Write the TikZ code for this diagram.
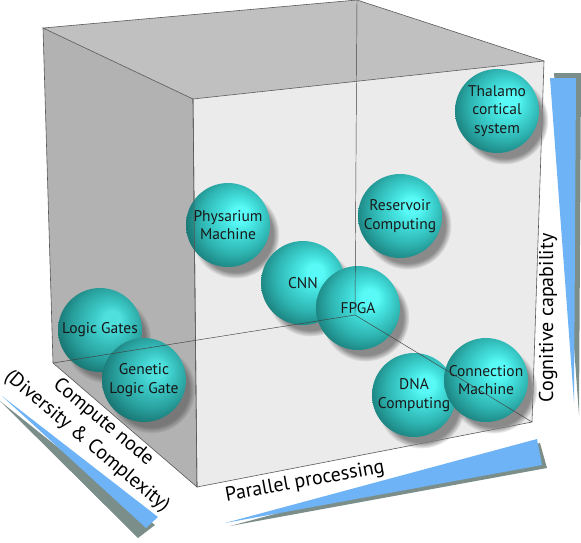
\documentclass[tikz,border=0pt]{standalone}
\usepackage{fontspec}
\setmainfont{PT Sans}
\usepackage{tikz}
\usetikzlibrary{shadows}

\definecolor{spherehi}{HTML}{58F9F6}
\definecolor{spherelight}{HTML}{45E3E0}
\definecolor{spheremid}{HTML}{2EB4B1}
\definecolor{sphereedge}{HTML}{1D8683}
\definecolor{sphererim}{HTML}{145F5D}
\definecolor{wedgeblue}{HTML}{6DB3F6}
\definecolor{wedgegray}{HTML}{7B8E8A}
\definecolor{facetop}{HTML}{C0C0C0}
\definecolor{faceleft}{HTML}{C7C7C7}
\definecolor{facefront}{HTML}{EBEBEB}

\pgfdeclareradialshading{sphereshade}{\pgfpoint{8bp}{7bp}}{%
  color(0bp)=(spherehi); color(5bp)=(spherehi); color(10bp)=(spherelight);
  color(21bp)=(spheremid); color(29bp)=(sphereedge); color(36bp)=(sphererim);
  color(50bp)=(sphererim)}

\begin{document}
\begin{tikzpicture}[x=1pt,y=-1pt,
  sphere/.style={circle,minimum size=84pt,inner sep=0pt,shading=sphereshade,
    align=center,text=black!90,font=\fontsize{15.5}{18.5}\selectfont,
    circular drop shadow={shadow xshift=7pt,shadow yshift=-9pt,shadow scale=1.05,opacity=.9}},
  axislabel/.style={font=\fontsize{20}{25}\selectfont,text=black,align=center},
  cubeline/.style={draw=black!65,line width=.6pt},
  hiddenline/.style={draw=black!75,line width=.45pt}]
\useasboundingbox (0,0) rectangle (581,542);

% corners of the box
\coordinate (btl) at (43,28);
\coordinate (btr) at (357,0);
\coordinate (bbl) at (53,363);
\coordinate (bbr) at (355,315);
\coordinate (ftl) at (193,99);
\coordinate (ftr) at (544,61);
\coordinate (fbl) at (197,487);
\coordinate (fbr) at (532,422);

\fill[facetop] (btl) -- (btr) -- (ftr) -- (ftl) -- cycle;
\fill[faceleft] (btl) -- (ftl) -- (fbl) -- (bbl) -- cycle;
\fill[facefront] (ftl) -- (ftr) -- (fbr) -- (fbl) -- cycle;
\draw[cubeline] (ftl) -- (ftr) -- (fbr) -- (fbl) -- cycle;

% the spheres
\node[sphere] (thalamo) at (497,111) {Thalamo\\cortical\\system};
\node[sphere] (reservoir) at (400,216) {Reservoir\\Computing};
\node[sphere] (physarum) at (228,225) {Physarium\\Machine};
\node[sphere] (cnn) at (303,283) {CNN};
\node[sphere] (fpga) at (358,308) {FPGA};
\node[sphere] (logicgates) at (100,330) {Logic Gates};
\node[sphere] (genetic) at (144,380) {Genetic\\Logic Gate};
\node[sphere] (dna) at (414,395) {DNA\\Computing};
\node[sphere] (connection) at (486,380) {Connection\\Machine};

% left wall sits in front of the spheres
\fill[black,opacity=.1] (btl) -- (ftl) -- (fbl) -- (bbl) -- cycle;
\draw[hiddenline] (btr) -- (bbr) (bbl) -- (bbr) -- (fbr);
\draw[cubeline] (ftl) -- (btl) -- (btr) -- (ftr) (btl) -- (bbl) -- (fbl) -- (ftl);

% wedges
\fill[wedgegray] (230,526) -- (540,443) -- (547,468) -- cycle;
\fill[wedgeblue] (225,523) -- (537,439) -- (542,465) -- cycle;
\fill[wedgegray] (554,73) -- (581,73) -- (579,415) -- cycle;
\fill[wedgeblue] (550,78) -- (576,78) -- (574,402) -- cycle;
\fill[wedgegray] (0,401) -- (155,525) -- (138,538) -- cycle;
\fill[wedgeblue] (2,396) -- (158,517) -- (146,528) -- cycle;

% axis labels
\node[axislabel,rotate=10.5] (parallel) at (305,482) {Parallel processing};
\node[axislabel,rotate=90] (cognitive) at (548,318) {Cognitive capability};
\node[axislabel,rotate=-40] (compute) at (95,432) {Compute node\\(Diversity \& Complexity)};
\end{tikzpicture}
\end{document}
